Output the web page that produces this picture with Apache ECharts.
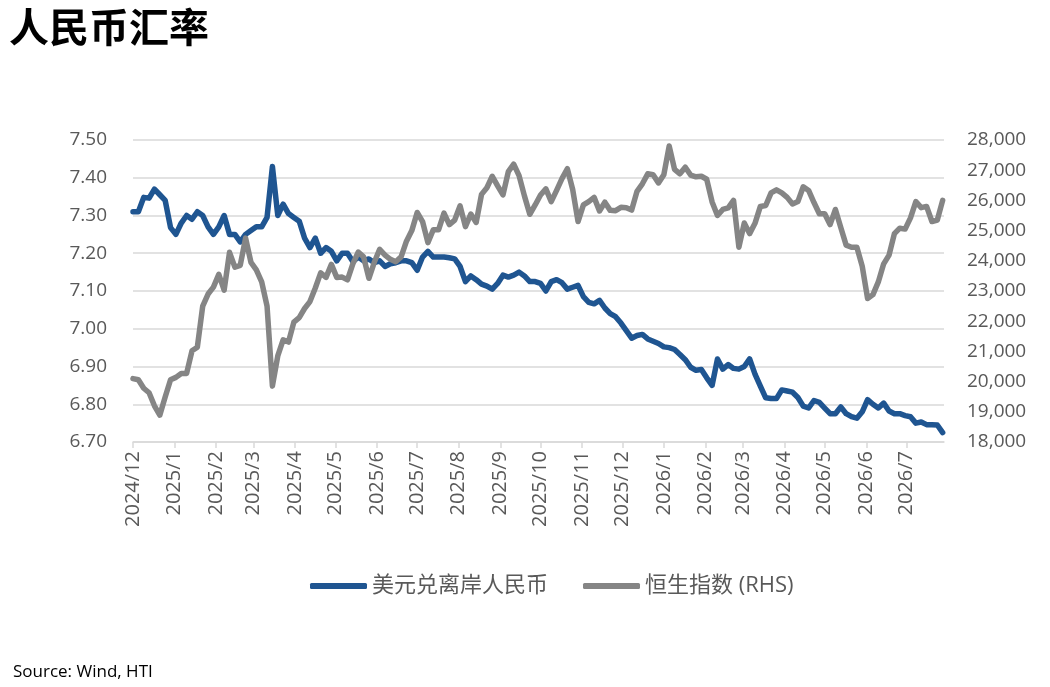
<!DOCTYPE html>
<html>
<head>
<meta charset="utf-8">
<title>人民币汇率</title>
<script src="https://cdn.jsdelivr.net/npm/echarts@6/dist/echarts.min.js"></script>
<style>
  html, body { margin: 0; padding: 0; background: #ffffff; }
  #chart { width: 1050px; height: 687px; }
</style>
</head>
<body>
<div id="chart"></div>
<script>
// sampled every 4 days starting 2024/12/1
var startDate = [2024, 12, 1];
var stepDays = 4;

var monthLabels = ["2024/12", "2025/1", "2025/2", "2025/3", "2025/4", "2025/5", "2025/6",
  "2025/7", "2025/8", "2025/9", "2025/10", "2025/11", "2025/12", "2026/1", "2026/2",
  "2026/3", "2026/4", "2026/5", "2026/6", "2026/7"];

// 美元兑离岸人民币
var cnhValues = [
  7.31, 7.31, 7.348, 7.346, 7.37, 7.355, 7.34, 7.268, 7.25, 7.28,
  7.30, 7.29, 7.31, 7.30, 7.27, 7.25, 7.27, 7.30, 7.25, 7.25,
  7.23, 7.25, 7.26, 7.27, 7.27, 7.295, 7.43, 7.30, 7.33, 7.305,
  7.295, 7.285, 7.24, 7.215, 7.24, 7.20, 7.215, 7.205, 7.18,
  7.20, 7.20, 7.178, 7.19, 7.18, 7.185, 7.175, 7.18, 7.165, 7.172, 7.175,
  7.18, 7.18, 7.175, 7.155, 7.19, 7.205, 7.19, 7.19, 7.19, 7.188,
  7.185, 7.165, 7.125, 7.14, 7.13, 7.118, 7.113, 7.105, 7.12, 7.142,
  7.137, 7.142, 7.15, 7.14, 7.125,
  7.125, 7.12, 7.10, 7.125, 7.13,
  7.122, 7.105, 7.11, 7.115, 7.085, 7.07, 7.066, 7.075, 7.055, 7.04,
  7.032, 7.015, 6.995, 6.975, 6.982, 6.985, 6.973, 6.967, 6.961, 6.952,
  6.95, 6.945, 6.932, 6.918, 6.898, 6.89, 6.892, 6.87, 6.85, 6.92, 6.893, 6.905,
  6.895, 6.893, 6.90, 6.92, 6.88, 6.848, 6.817, 6.815, 6.815, 6.838,
  6.835, 6.832, 6.818, 6.795, 6.79, 6.81, 6.805, 6.79, 6.775, 6.775,
  6.793, 6.775, 6.767, 6.763, 6.78, 6.812, 6.80, 6.79, 6.803, 6.782,
  6.775, 6.775, 6.77, 6.767, 6.75, 6.753, 6.746, 6.746, 6.745, 6.725
];

// 恒生指数 (RHS)
var hsiValues = [
  20100, 20060, 19780, 19630, 19200, 18890, 19490, 20060, 20140, 20270,
  20270, 21020, 21140, 22500, 22900, 23130, 23550, 23030, 24280, 23790,
  23850, 24750, 23950, 23700, 23300, 22500, 19850, 20850, 21380, 21310,
  21970, 22120, 22420, 22650, 23100, 23600, 23450, 23880, 23450,
  23460, 23370, 23900, 24290, 24130, 23420, 23950, 24380, 24190, 24050, 23970,
  24130, 24650, 25000, 25600, 25300, 24600, 25030, 25030, 25580, 25200,
  25350, 25820, 25130, 25550, 25270, 26200, 26420, 26800, 26480, 26180,
  26950, 27200, 26820, 26150, 25540,
  25850, 26180, 26380, 25960, 26330,
  26720, 27050, 26360, 25300, 25850, 25960, 26100, 25650, 25940, 25670,
  25660, 25770, 25760, 25680, 26300, 26550, 26880, 26850, 26580, 26850,
  27800, 27030, 26880, 27100, 26840, 26780, 26800, 26700, 25950, 25500, 25700, 25750,
  26000, 24450, 25250, 24900, 25240, 25800, 25830, 26250, 26350, 26250,
  26100, 25880, 25960, 26450, 26330, 25930, 25560, 25560, 25200, 25700,
  25100, 24520, 24450, 24450, 23820, 22750, 22880, 23300, 23900, 24190,
  24900, 25080, 25050, 25420, 25960, 25760, 25800, 25300, 25350, 26000
];

var textColor = "#595959";
var latinFont = "'Open Sans', 'Noto Sans CJK SC', sans-serif";
var cjkFont = "'Noto Sans CJK SC', sans-serif";

function dayTime(offset) {
  return new Date(startDate[0], startDate[1] - 1, startDate[2] + offset).getTime();
}

var monthTicks = monthLabels.map(function (s) {
  var p = s.split("/");
  return new Date(+p[0], +p[1] - 1, 1).getTime();
});

var cnhData = cnhValues.map(function (v, i) { return [dayTime(i * stepDays), v]; });
var hsiData = hsiValues.map(function (v, i) { return [dayTime(i * stepDays), v]; });

var chart = echarts.init(document.getElementById("chart"));
var option = {
  animation: false,
  backgroundColor: "#ffffff",
  title: [
    {
      text: "人民币汇率",
      left: 4,
      top: 2,
      textStyle: { fontFamily: cjkFont, fontSize: 40, fontWeight: "bold", color: "#000000" }
    },
    {
      text: "Source: Wind, HTI",
      left: 8,
      top: 659,
      textStyle: { fontFamily: latinFont, fontSize: 17, fontWeight: "normal", color: "#000000" }
    }
  ],
  legend: {
    top: 570,
    left: 305,
    icon: "roundRect",
    itemWidth: 57,
    itemHeight: 6,
    itemGap: 35,
    textStyle: { fontFamily: latinFont, fontSize: 22, color: textColor },
    data: ["美元兑离岸人民币", "恒生指数 (RHS)"]
  },
  grid: { left: 133, right: 106, top: 140, bottom: 245 },
  xAxis: {
    type: "value",
    min: dayTime(0),
    max: dayTime(605),
    axisLine: { show: true, lineStyle: { color: "#d9d9d9", width: 1.5 } },
    axisTick: { show: true, customValues: monthTicks, length: 6, lineStyle: { color: "#d9d9d9", width: 1.5 } },
    axisLabel: {
      customValues: monthTicks,
      rotate: 90,
      margin: 9,
      color: textColor,
      fontFamily: latinFont,
      fontSize: 20,
      formatter: function (v) {
        var d = new Date(v);
        return d.getFullYear() + "/" + (d.getMonth() + 1);
      }
    },
    splitLine: { show: false }
  },
  yAxis: [
    {
      type: "value",
      position: "left",
      min: 6.7,
      max: 7.5,
      interval: 0.1,
      axisLine: { show: false },
      axisTick: { show: false },
      axisLabel: {
        margin: 26,
        color: textColor,
        fontFamily: latinFont,
        fontSize: 19,
        formatter: function (v) { return v.toFixed(2); }
      },
      splitLine: { lineStyle: { color: "#d9d9d9", width: 1.5 } }
    },
    {
      type: "value",
      position: "right",
      min: 18000,
      max: 28000,
      interval: 1000,
      axisLine: { show: false },
      axisTick: { show: false },
      axisLabel: {
        margin: 23,
        color: textColor,
        fontFamily: latinFont,
        fontSize: 19,
        formatter: function (v) { return v.toLocaleString("en-US"); }
      },
      splitLine: { show: false }
    }
  ],
  series: [
    {
      name: "美元兑离岸人民币",
      type: "line",
      yAxisIndex: 0,
      data: cnhData,
      symbol: "none",
      color: "#1f5591",
      lineStyle: { width: 5.5, color: "#1f5591", join: "round", cap: "round" }
    },
    {
      name: "恒生指数 (RHS)",
      type: "line",
      yAxisIndex: 1,
      data: hsiData,
      symbol: "none",
      color: "#858585",
      lineStyle: { width: 5.5, color: "#858585", join: "round", cap: "round" }
    }
  ]
};
chart.setOption(option);
</script>
</body>
</html>
